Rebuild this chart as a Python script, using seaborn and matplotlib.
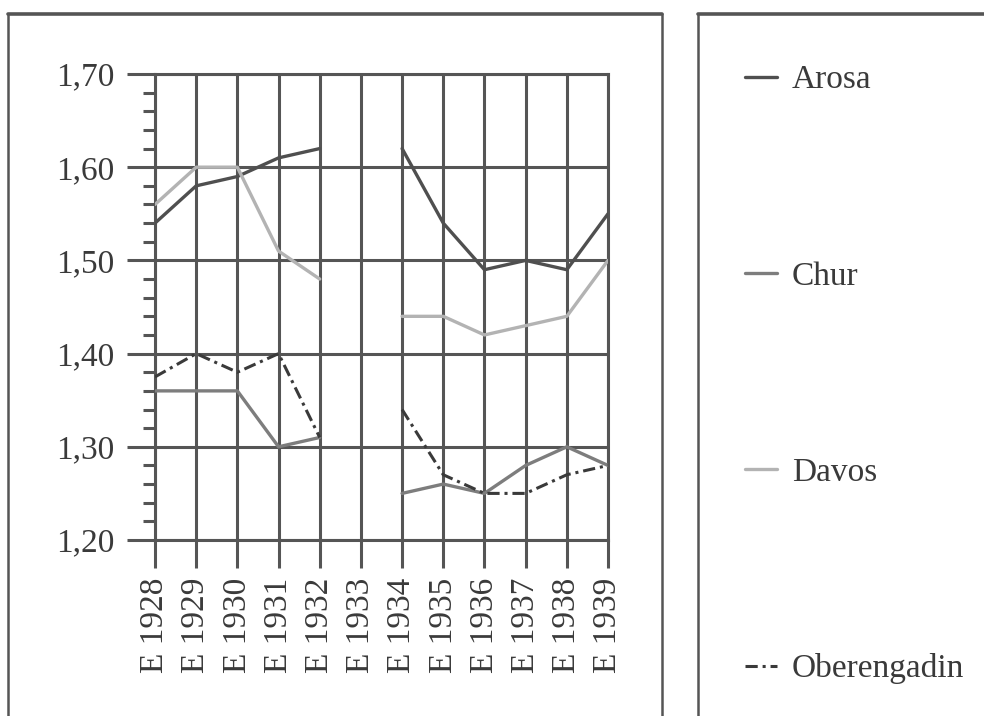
import numpy as np
import pandas as pd
import seaborn as sns
import matplotlib.pyplot as plt
from matplotlib.lines import Line2D
from matplotlib.ticker import MultipleLocator, FuncFormatter, FixedLocator

nan = np.nan
years = [1928, 1929, 1930, 1931, 1932, 1933, 1934, 1935, 1936, 1937, 1938, 1939]
tick_labels = [f"E {y}" for y in years]
arosa = [1.54, 1.58, 1.59, 1.61, 1.62, nan, 1.62, 1.54, 1.49, 1.50, 1.49, 1.55]
chur = [1.36, 1.36, 1.36, 1.30, 1.31, nan, 1.25, 1.26, 1.25, 1.28, 1.30, 1.28]
davos = [1.56, 1.60, 1.60, 1.51, 1.48, nan, 1.44, 1.44, 1.42, 1.43, 1.44, 1.50]
oberengadin = [1.375, 1.40, 1.38, 1.40, 1.31, nan, 1.34, 1.27, 1.25, 1.25, 1.27, 1.28]
series_names = ["Arosa", "Chur", "Davos", "Oberengadin"]

sns.set_theme(style="white")
plt.rcParams["font.family"] = ["Liberation Serif", "DejaVu Serif"]

GRID = "#555555"
styles = {
    "Arosa": dict(color="#4f4f4f", lw=2.4, ls="-"),
    "Chur": dict(color="#7d7d7d", lw=2.4, ls="-"),
    "Davos": dict(color="#b3b3b3", lw=2.4, ls="-"),
    "Oberengadin": dict(color="#3a3a3a", lw=2.2, ls=(0, (4, 1.6, 1, 1.6))),
}

df = pd.DataFrame({"year": years, "Arosa": arosa, "Chur": chur,
                   "Davos": davos, "Oberengadin": oberengadin})

fig = plt.figure(figsize=(9.84, 7.16), dpi=100)
ax = fig.add_axes([155 / 984, 1 - 540 / 716, 453 / 984, 466 / 716])

for name in series_names:
    s = df[["year", name]].copy()
    grp = s[name].isna().cumsum()
    for _, chunk in s[s[name].notna()].groupby(grp[s[name].notna()]):
        st = styles[name]
        sns.lineplot(data=chunk, x="year", y=name, ax=ax, color=st["color"],
                     linewidth=st["lw"], linestyle=st["ls"], legend=False,
                     zorder=3)

ax.set_xlim(years[0], years[-1])
ax.set_ylim(1.20, 1.70)
ax.xaxis.set_major_locator(FixedLocator(years))
ax.set_xticklabels(tick_labels, rotation=90, fontsize=24, color="#3a3a3a")
ax.yaxis.set_major_locator(MultipleLocator(0.10))
ax.yaxis.set_minor_locator(MultipleLocator(0.02))
ax.yaxis.set_major_formatter(FuncFormatter(lambda v, p: f"{v:.2f}".replace(".", ",")))
for lab in ax.get_yticklabels():
    lab.set_fontsize(24)
    lab.set_color("#3a3a3a")
ax.set_xlabel("")
ax.set_ylabel("")
ax.grid(True, which="major", color=GRID, linewidth=2.2, zorder=1)
ax.set_axisbelow(True)
ax.tick_params(axis="both", which="major", length=20, width=2.2, color=GRID,
               left=True, bottom=True, labelsize=24, labelcolor="#3a3a3a")
ax.tick_params(axis="y", which="major", pad=9)
ax.tick_params(axis="x", which="major", pad=7)
ax.tick_params(axis="y", which="minor", length=8.5, width=2.2, color=GRID, left=True)
for sp in ax.spines.values():
    sp.set_visible(True)
    sp.set_color(GRID)
    sp.set_linewidth(2.2)

# frames
W, H = 984, 716
def fl(x0, y0, x1, y1, lw):
    fig.add_artist(Line2D([x0 / W, x1 / W], [1 - y0 / H, 1 - y1 / H],
                          transform=fig.transFigure, color="#555555", lw=lw))
fl(8, 14, 662, 14, 2.6)
fl(8, 14, 8, 716, 1.8)
fl(662, 14, 662, 716, 1.8)
fl(698, 14, 984, 14, 2.6)
fl(698, 14, 698, 716, 1.8)

handles = [Line2D([], [], color=styles[n]["color"], lw=styles[n]["lw"],
                  ls=styles[n]["ls"]) for n in series_names]
fig.legend(handles, series_names, loc="upper left",
           bbox_to_anchor=(745 / W, 1 - 65 / H), frameon=False,
           fontsize=24, handlelength=0.95, handletextpad=0.45,
           labelspacing=4.97, borderpad=0, borderaxespad=0,
           labelcolor="#3a3a3a")

fig.savefig("out.png", dpi=100)
